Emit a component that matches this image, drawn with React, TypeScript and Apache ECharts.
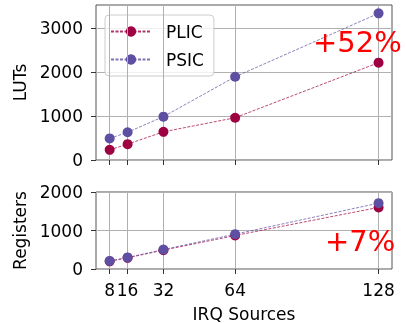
import React, { useEffect, useRef } from "react";
import * as echarts from "echarts";

const sources = [8, 16, 32, 64, 128];
const lutsPLIC = [230, 360, 640, 960, 2210];
const lutsPSIC = [490, 630, 985, 1890, 3330];
const regsPLIC = [200, 290, 490, 870, 1600];
const regsPSIC = [210, 300, 505, 905, 1710];
const seriesNames = ["PLIC", "PSIC"];
const lutsTicks = [0, 1000, 2000, 3000];
const regsTicks = [0, 1000, 2000];

const FONT = "DejaVu Sans";
const FS = 17;
const C_PLIC = "#9e0142";
const C_PSIC = "#5e4fa2";
const GRIDC = "#b0b0b0";

function pairs(ys: number[]) {
  return sources.map((x, i) => [x, ys[i]]);
}

export default function App() {
  const ref = useRef<HTMLDivElement>(null);
  useEffect(() => {
    if (!ref.current) return;
    const chart = echarts.init(ref.current, null, { renderer: "svg" });
    const lineSeries = (name: string, data: number[], color: string, idx: number) => ({
      name,
      type: "line",
      xAxisIndex: idx,
      yAxisIndex: idx,
      data: pairs(data),
      symbol: "circle",
      symbolSize: 10,
      z: 5,
      itemStyle: { color },
      lineStyle: { color, width: 0.9, type: [3, 1.5], opacity: 0.8 },
    });
    const gridLines = (idx: number) => ({
      type: "line",
      xAxisIndex: idx,
      yAxisIndex: idx,
      data: [],
      z: 1,
      silent: true,
      markLine: {
        silent: true,
        symbol: ["none", "none"],
        label: { show: false },
        lineStyle: { color: GRIDC, type: "solid", width: 1 },
        data: sources.map((v) => ({ xAxis: v })),
      },
    });
    const xBase = {
      type: "value",
      min: 1.9,
      max: 134,
      axisLine: { show: false },
      splitLine: { show: false },
      axisTick: { show: true, customValues: sources, length: 5, lineStyle: { color: "#333" } },
    };
    const yBase = {
      type: "value",
      min: 0,
      interval: 1000,
      axisLine: { show: false },
      axisTick: { show: true, length: 5, lineStyle: { color: "#333" } },
      splitLine: { show: true, lineStyle: { color: GRIDC, width: 1 } },
      nameLocation: "middle",
      nameGap: 68,
      nameTextStyle: { fontFamily: FONT, fontSize: FS, color: "#000" },
    };
    const yLabel = (ticks: number[]) => ({
      customValues: ticks,
      margin: 13,
      fontSize: FS,
      fontFamily: FONT,
      color: "#000",
      formatter: (v: number) => String(v),
    });
    chart.setOption({
      animation: false,
      textStyle: { fontFamily: FONT },
      grid: [
        { left: 96, top: 5, width: 296, height: 155, show: true, borderColor: "#555", borderWidth: 1, backgroundColor: "transparent" },
        { left: 96, top: 192, width: 296, height: 77, show: true, borderColor: "#555", borderWidth: 1, backgroundColor: "transparent" },
      ],
      xAxis: [
        { ...xBase, gridIndex: 0, axisLabel: { show: false } },
        {
          ...xBase,
          gridIndex: 1,
          axisLabel: {
            show: true,
            customValues: sources,
            margin: 12,
            fontSize: FS,
            fontFamily: FONT,
            color: "#000",
            formatter: (v: number) => String(v),
          },
          name: "IRQ Sources",
          nameLocation: "middle",
          nameGap: 36,
          nameTextStyle: { fontFamily: FONT, fontSize: FS, color: "#000" },
        },
      ],
      yAxis: [
        {
          ...yBase,
          gridIndex: 0,
          max: 3520,
          name: "LUTs",
          axisTick: { ...yBase.axisTick, customValues: lutsTicks },
          axisLabel: yLabel(lutsTicks),
        },
        {
          ...yBase,
          gridIndex: 1,
          max: 2000,
          name: "Registers",
          axisTick: { ...yBase.axisTick, customValues: regsTicks },
          axisLabel: yLabel(regsTicks),
        },
      ],
      legend: {
        left: 105,
        top: 15,
        orient: "vertical",
        data: seriesNames,
        itemWidth: 40,
        itemHeight: 13,
        itemGap: 11,
        padding: [8, 10, 8, 5],
        backgroundColor: "rgba(255,255,255,0.8)",
        borderColor: "#ccc",
        borderWidth: 1,
        borderRadius: 4,
        textStyle: { fontFamily: FONT, fontSize: FS, color: "#000", padding: [0, 0, 0, 10] },
      },
      graphic: [
        { type: "text", left: 313, top: 27, z: 10, style: { text: "+52%", fill: "#ff0000", font: `29px '${FONT}'` } },
        { type: "text", left: 325, top: 226, z: 10, style: { text: "+7%", fill: "#ff0000", font: `29px '${FONT}'` } },
      ],
      series: [
        gridLines(0),
        gridLines(1),
        lineSeries(seriesNames[0], lutsPLIC, C_PLIC, 0),
        lineSeries(seriesNames[1], lutsPSIC, C_PSIC, 0),
        lineSeries(seriesNames[0], regsPLIC, C_PLIC, 1),
        lineSeries(seriesNames[1], regsPSIC, C_PSIC, 1),
      ],
    });
    return () => chart.dispose();
  }, []);
  return <div ref={ref} style={{ position: "fixed", left: 0, top: 0, width: 406, height: 323 }} />;
}
